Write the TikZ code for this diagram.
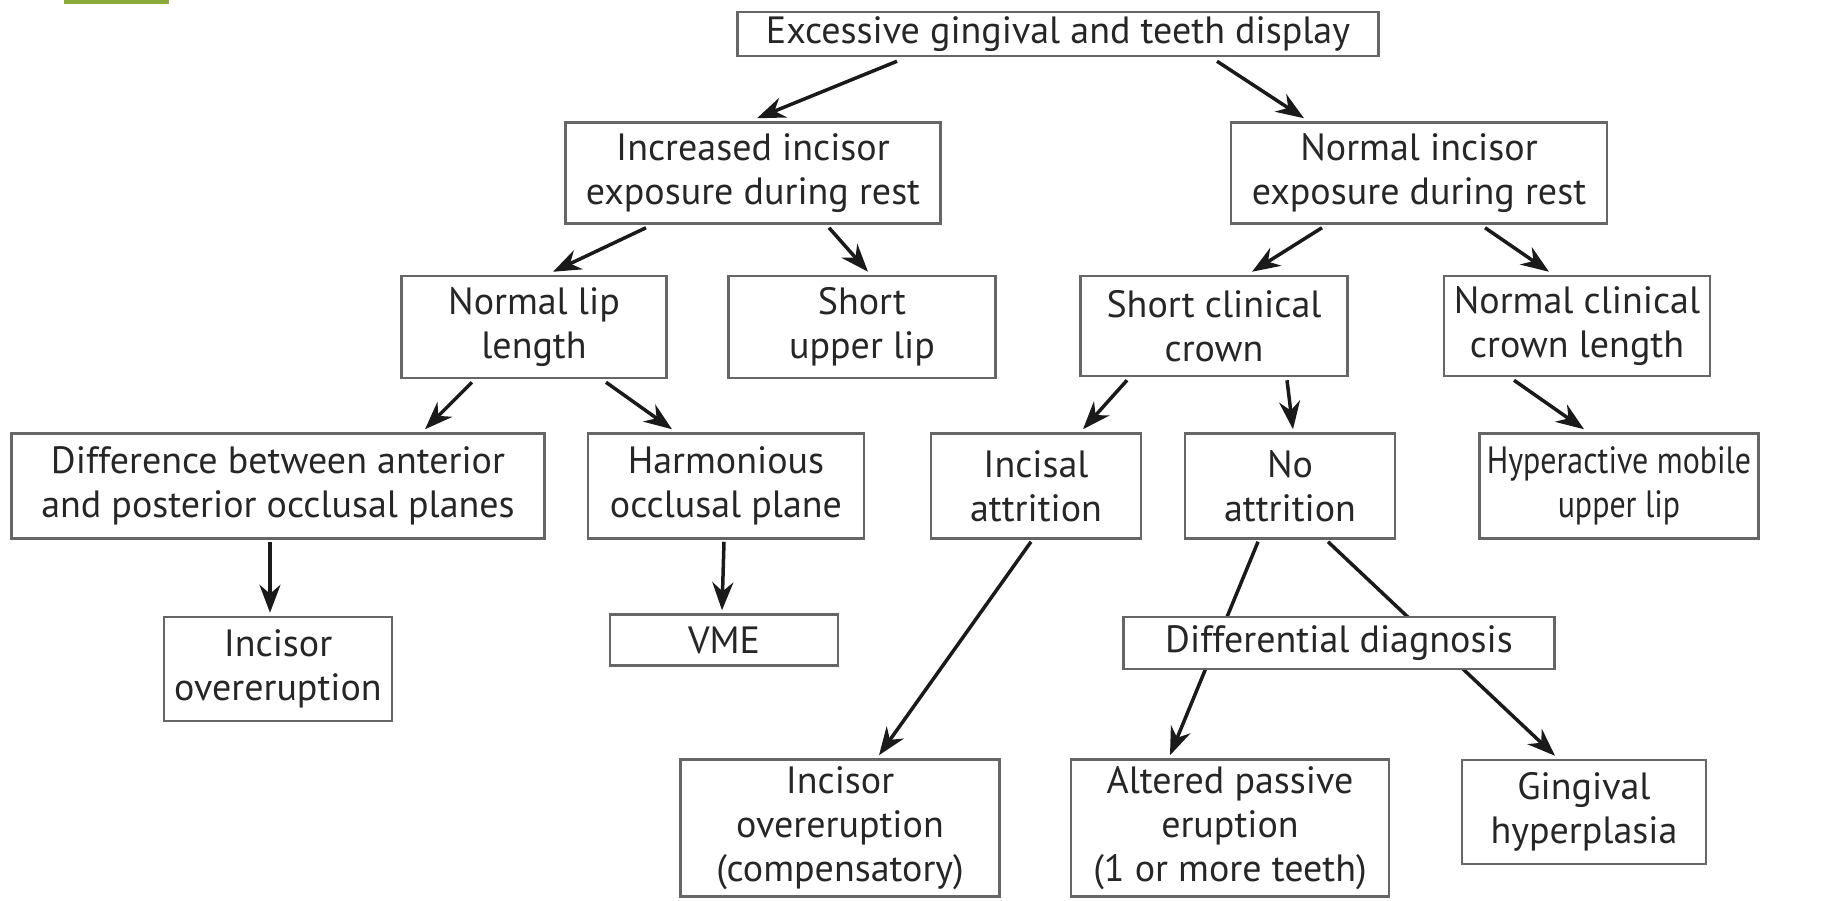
\documentclass[tikz,border=0pt]{standalone}
\usepackage{fontspec}
\setmainfont{PT Sans}
\newfontfamily\narrowfont[FakeStretch=0.84]{PT Sans}
\usetikzlibrary{arrows.meta}
\definecolor{boxline}{HTML}{666666}
\definecolor{txt}{HTML}{262626}
\definecolor{arr}{HTML}{1A1A1A}
\definecolor{greenbar}{HTML}{8AAB3A}
\tikzset{
  box/.style={draw=boxline, line width=2.5pt, align=center, inner sep=0pt, text=txt,
    font=\fontsize{38}{44}\selectfont},
  conn/.style={draw=arr, line width=3.5pt, -{Stealth[length=28pt,width=21pt]}},
}
\begin{document}
\begin{tikzpicture}[x=1pt,y=-1pt]
\useasboundingbox (0,0) rectangle (1826,900);
\fill[greenbar] (64,0) rectangle (169,4);

\node[box, minimum width=641pt, minimum height=44pt] (top) at (1058,34) {Excessive gingival and teeth display};
\node[box, minimum width=375pt, minimum height=101pt] (inc) at (753,173) {Increased incisor\\exposure during rest};
\node[box, minimum width=376pt, minimum height=101pt] (nor) at (1419,173) {Normal incisor\\exposure during rest};
\node[box, minimum width=265pt, minimum height=102pt] (lip) at (534,327) {Normal lip\\length};
\node[box, minimum width=267pt, minimum height=102pt] (sul) at (862,327) {Short\\upper lip};
\node[box, minimum width=267pt, minimum height=100pt] (scc) at (1214,326) {Short clinical\\crown};
\node[box, minimum width=266pt, minimum height=100pt] (ncc) at (1577,326) {Normal clinical\\crown length};
\node[box, minimum width=533pt, minimum height=105pt] (dif) at (278,486) {Difference between anterior\\and posterior occlusal planes};
\node[box, minimum width=276pt, minimum height=105pt] (har) at (726,486) {Harmonious\\occlusal plane};
\node[box, minimum width=210pt, minimum height=105pt] (att) at (1036,486) {Incisal\\attrition};
\node[box, minimum width=210pt, minimum height=105pt] (noa) at (1290,486) {No\\attrition};
\node[box, minimum width=279pt, minimum height=105pt, font=\narrowfont\fontsize{38}{44}\selectfont] (hyp) at (1619,486) {Hyperactive mobile\\upper lip};
\node[box, minimum width=228pt, minimum height=104pt] (io) at (278,669) {Incisor\\overeruption};
\node[box, minimum width=228pt, minimum height=51pt] (vme) at (724,640) {VME};
\node[box, minimum width=319pt, minimum height=137pt] (ioc) at (840,828) {Incisor\\overeruption\\(compensatory)};
\node[box, minimum width=318pt, minimum height=137pt] (ape) at (1230,828) {Altered passive\\eruption\\(1 or more teeth)};
\node[box, minimum width=244pt, minimum height=104pt] (gh) at (1584,812) {Gingival\\hyperplasia};

\draw[conn] ([xshift=-161pt,yshift=-4pt]top.south) -- ([xshift=4pt,yshift=3pt]inc.north);
\draw[conn] ([xshift=159pt,yshift=-4pt]top.south) -- ([xshift=-115pt,yshift=3pt]nor.north);
\draw[conn] ([xshift=-107pt,yshift=-3pt]inc.south) -- ([xshift=19pt,yshift=3pt]lip.north);
\draw[conn] ([xshift=76pt,yshift=-3pt]inc.south) -- ([xshift=6pt,yshift=3pt]sul.north);
\draw[conn] ([xshift=-97pt,yshift=-3pt]nor.south) -- ([xshift=38pt,yshift=3pt]scc.north);
\draw[conn] ([xshift=66pt,yshift=-3pt]nor.south) -- ([xshift=-28pt,yshift=3pt]ncc.north);
\draw[conn] ([xshift=-62pt,yshift=-3pt]lip.south) -- ([xshift=147pt,yshift=3pt]dif.north);
\draw[conn] ([xshift=72pt,yshift=-3pt]lip.south) -- ([xshift=-54pt,yshift=3pt]har.north);
\draw[conn] ([xshift=-87pt,yshift=-3pt]scc.south) -- ([xshift=47pt,yshift=3pt]att.north);
\draw[conn] ([xshift=73pt,yshift=-3pt]scc.south) -- ([xshift=3pt,yshift=3pt]noa.north);
\draw[conn] ([xshift=-63pt,yshift=-3pt]ncc.south) -- ([xshift=-35pt,yshift=3pt]hyp.north);
\draw[conn] ([xshift=-8pt,yshift=-2pt]dif.south) -- ([xshift=-8pt,yshift=3pt]io.north);
\draw[conn] ([xshift=-2pt,yshift=-2pt]har.south) -- ([xshift=-2pt,yshift=3pt]vme.north);
\draw[conn] ([xshift=-5pt,yshift=-2pt]att.south) -- ([xshift=39pt,yshift=3pt]ioc.north);
\draw[conn] ([xshift=-32pt,yshift=-2pt]noa.south) -- ([xshift=-60pt,yshift=3pt]ape.north);
\draw[conn] ([xshift=38pt,yshift=-2pt]noa.south) -- ([xshift=-29pt,yshift=3pt]gh.north);

\node[box, fill=white, minimum width=431pt, minimum height=52pt] (dd) at (1339,643) {Differential diagnosis};
\end{tikzpicture}
\end{document}
